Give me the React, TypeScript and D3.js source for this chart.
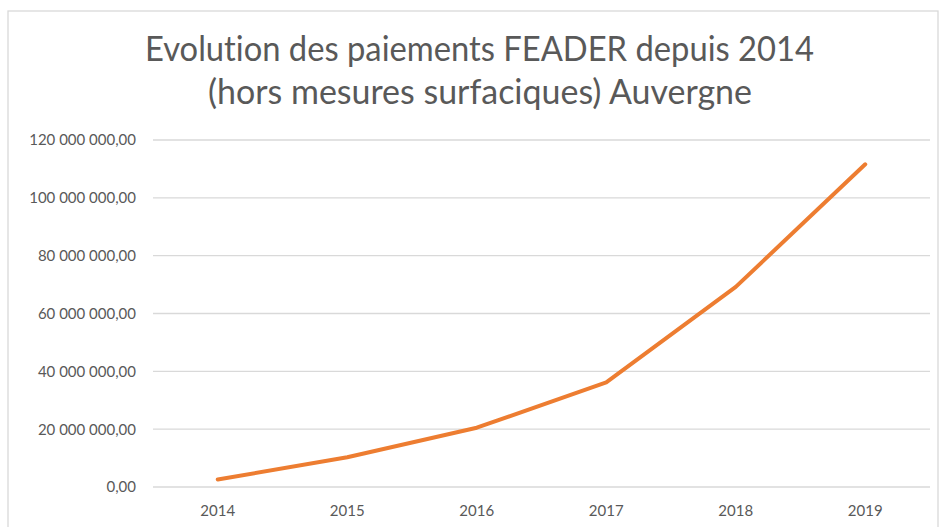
import React from "react";
import * as d3 from "d3";

// Paiements FEADER (hors mesures surfaciques), Auvergne
const years = ["2014", "2015", "2016", "2017", "2018", "2019"];
const paiements = [2600000, 10300000, 20500000, 36200000, 69200000, 111600000];
const titleLines = [
	"Evolution des paiements FEADER depuis 2014",
	"(hors mesures surfaciques) Auvergne",
];

const W = 939;
const H = 527;
const margin = { top: 140, right: 9, bottom: 40, left: 153 };

const frLocale = d3.formatLocale({
	decimal: ",",
	thousands: "\u00a0",
	grouping: [3],
	currency: ["", " €"],
});
const fmt = frLocale.format(",.2f");

const App = () => {
	const x = d3
		.scaleBand()
		.domain(years)
		.range([margin.left, W - margin.right]);
	const y = d3
		.scaleLinear()
		.domain([0, 120000000])
		.range([H - margin.bottom, margin.top]);

	const line = d3
		.line<number>()
		.x((d, i) => x(years[i])! + x.bandwidth() / 2)
		.y((d) => y(d));

	const yTicks = y.ticks(6);
	const font = "Lato, 'Open Sans', sans-serif";
	const noLig = { fontVariantLigatures: "none" as const };

	return (
		<svg
			width={W}
			height={H}
			style={{ position: "absolute", left: 0, top: 0, background: "#fff" }}
		>
			{/* chart area border */}
			<rect x={8} y={11} width={930} height={530} fill="#fff" stroke="#d9d9d9" strokeWidth={1.3} />

			{/* title */}
			<text
				x={479.5}
				y={61}
				textAnchor="middle"
				fontFamily={font}
				fontSize={34}
				fill="#595959"
				textLength={669}
				lengthAdjust="spacingAndGlyphs"
				style={noLig}
			>
				{titleLines[0]}
			</text>
			<text
				x={480}
				y={104}
				textAnchor="middle"
				fontFamily={font}
				fontSize={34}
				fill="#595959"
				textLength={544}
				lengthAdjust="spacingAndGlyphs"
				style={noLig}
			>
				{titleLines[1]}
			</text>

			{/* gridlines + y labels */}
			{yTicks.map((t) => (
				<g key={t}>
					<line
						x1={margin.left}
						x2={W - margin.right}
						y1={y(t)}
						y2={y(t)}
						stroke="#d9d9d9"
						strokeWidth={1.3}
					/>
					<text
						x={136}
						y={y(t)}
						dy="0.36em"
						textAnchor="end"
						fontFamily={font}
						fontSize={15}
						fill="#595959"
					>
						{fmt(t)}
					</text>
				</g>
			))}

			{/* x labels */}
			{years.map((yr) => (
				<text
					key={yr}
					x={x(yr)! + x.bandwidth() / 2}
					y={516}
					textAnchor="middle"
					fontFamily={font}
					fontSize={15}
					fill="#595959"
				>
					{yr}
				</text>
			))}

			<path
				d={line(paiements)!}
				fill="none"
				stroke="#ed7d31"
				strokeWidth={4}
				strokeLinecap="round"
				strokeLinejoin="round"
			/>
		</svg>
	);
};

export default App;
